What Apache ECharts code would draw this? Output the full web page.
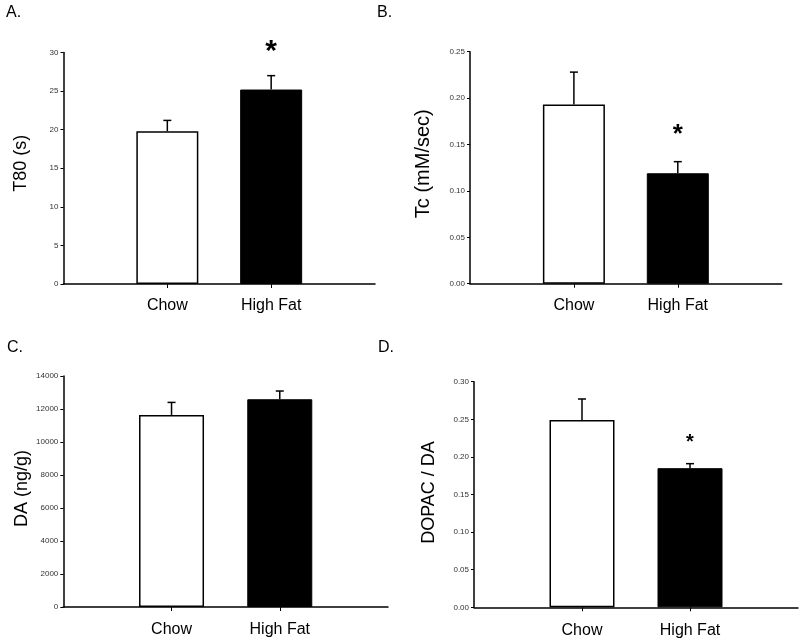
<!DOCTYPE html>
<html>
<head>
<meta charset="utf-8">
<script src="https://cdn.jsdelivr.net/npm/echarts@6/dist/echarts.min.js"></script>
<style>html,body{margin:0;padding:0;background:#fff}#main{width:800px;height:642px}</style>
</head>
<body>
<div id="main"></div>
<script>
// ---- data ----
const categories = ['Chow', 'High Fat'];
const panelLetters = ['A.', 'B.', 'C.', 'D.'];
const yTitles = ['T80 (s)', 'Tc (mM/sec)', 'DA (ng/g)', 'DOPAC / DA'];
const t80Mean = [19.8, 25.2];
const t80Sem = [1.4, 1.8];
const tcMean = [0.193, 0.119];
const tcSem = [0.035, 0.0125];
const daMean = [11640, 12590];
const daSem = [760, 500];
const dopacMean = [0.249, 0.185];
const dopacSem = [0.028, 0.006];
const significant = [[false, true], [false, true], [false, false], [false, true]];
const yMax = [30, 0.25, 14000, 0.30];
const yStep = [5, 0.05, 2000, 0.05];
const yDecimals = [0, 2, 0, 2];

// ---- layout / style ----
const means = [t80Mean, tcMean, daMean, dopacMean];
const sems = [t80Sem, tcSem, daSem, dopacSem];
const grids = [
  {left: 63.5, top: 52.5, width: 311.5, height: 231.5},
  {left: 470, top: 51.7, width: 311.7, height: 232},
  {left: 63.3, top: 376, width: 324.7, height: 231},
  {left: 474, top: 381.7, width: 324, height: 225.6}
];
const barWidths = [62, 62, 65, 65];
const titleSizes = [18, 20, 18, 18];
const titleGaps = [33, 37, 32, 36];
const titlePadBottom = [10, 8, 6, 4];
const starSizes = [30, 26, 0, 20];
const starOffsets = [24, 27, 0, 21];
const labelMargins = [14, 14, 15, 15];
const letterPos = [[6, 5], [377, 5], [7, 340], [378, 340]];
const FONT = 'Liberation Sans, Arial, sans-serif';

const option = {
  backgroundColor: '#fff',
  animation: false,
  grid: grids.map(g => Object.assign({containLabel: false}, g)),
  xAxis: grids.map((g, i) => ({
    type: 'value', gridIndex: i, min: 0, max: 3, interval: 1,
    splitLine: {show: false},
    axisLine: {show: true, onZero: false, lineStyle: {color: '#000', width: 1.5}},
    axisTick: {show: true, length: 4, customValues: [1, 2], lineStyle: {color: '#000', width: 1}},
    axisLabel: {
      show: true, customValues: [1, 2], margin: labelMargins[i],
      formatter: v => categories[Math.round(v) - 1] || '',
      color: '#000', fontSize: 16, fontFamily: FONT
    }
  })),
  yAxis: grids.map((g, i) => ({
    type: 'value', gridIndex: i, min: 0, max: yMax[i], interval: yStep[i],
    splitLine: {show: false},
    axisLine: {show: true, lineStyle: {color: '#000', width: 1.5}},
    axisTick: {show: true, length: 3, lineStyle: {color: '#000', width: 1}},
    axisLabel: {
      color: '#333', fontSize: 8, fontFamily: FONT, margin: 5,
      formatter: v => v.toFixed(yDecimals[i])
    },
    name: yTitles[i], nameLocation: 'middle', nameRotate: 90, nameGap: titleGaps[i],
    nameTextStyle: {color: '#000', fontSize: titleSizes[i], fontFamily: FONT,
      padding: [0, 0, 0, titlePadBottom[i]]}
  })),
  graphic: panelLetters.map((t, i) => ({
    type: 'text', left: letterPos[i][0], top: letterPos[i][1],
    style: {text: t, font: '16px ' + FONT, fill: '#000'}
  })),
  series: []
};

for (let i = 0; i < 4; i++) {
  option.series.push({
    type: 'bar', xAxisIndex: i, yAxisIndex: i, barWidth: barWidths[i],
    data: means[i].map((m, k) => ({
      value: [k + 1, m],
      itemStyle: k === 0
        ? {color: '#fff', borderColor: '#000', borderWidth: 1.5}
        : {color: '#000', borderColor: '#000', borderWidth: 1}
    }))
  });
  option.series.push({
    type: 'custom', xAxisIndex: i, yAxisIndex: i, z: 5, clip: false,
    data: means[i].map((m, k) => [k + 1, m, m + sems[i][k]]),
    renderItem: (params, api) => {
      const p0 = api.coord([api.value(0), api.value(1)]);
      const p1 = api.coord([api.value(0), api.value(2)]);
      return {
        type: 'group',
        children: [
          {type: 'line', shape: {x1: p0[0], y1: p0[1], x2: p1[0], y2: p1[1]}, style: {stroke: '#000', lineWidth: 1.5}},
          {type: 'line', shape: {x1: p1[0] - 4, y1: p1[1], x2: p1[0] + 4, y2: p1[1]}, style: {stroke: '#000', lineWidth: 1.5}}
        ]
      };
    }
  });
  const sigData = [];
  means[i].forEach((m, k) => { if (significant[i][k]) sigData.push([k + 1, m + sems[i][k]]); });
  if (sigData.length) {
    const si = i;
    option.series.push({
      type: 'custom', xAxisIndex: i, yAxisIndex: i, z: 6, clip: false,
      data: sigData,
      renderItem: (params, api) => {
        const p = api.coord([api.value(0), api.value(1)]);
        return {
          type: 'text',
          style: {
            x: p[0], y: p[1] - starOffsets[si], text: '*',
            font: 'bold ' + starSizes[si] + 'px ' + FONT, fill: '#000',
            align: 'center', verticalAlign: 'middle'
          }
        };
      }
    });
  }
}

const chart = echarts.init(document.getElementById('main'), null, {renderer: 'canvas'});
chart.setOption(option);
</script>
</body>
</html>
